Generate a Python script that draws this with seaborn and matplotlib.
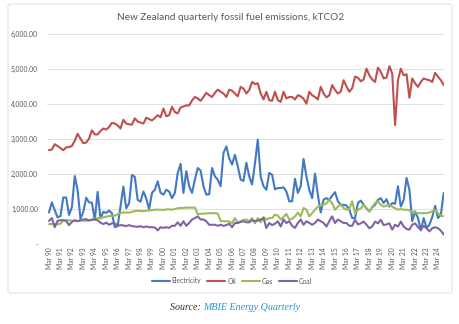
import numpy as np
import pandas as pd
import matplotlib
matplotlib.use("Agg")
import matplotlib.pyplot as plt
import seaborn as sns
from matplotlib.patches import FancyBboxPatch
from matplotlib.lines import Line2D

# ---------------- data (quarterly, Mar 1990 .. Sep 2024) ----------------
electricity = [
    900, 1190, 970, 760,   800, 1330, 1330, 830,   1050, 1940, 1540, 720,
    920, 1320, 1190, 1180,  690, 1490, 730, 920,    890, 950, 880, 480,
    510, 1070, 1640, 1020,  1160, 1970, 1920, 1260, 1210, 1500, 1300, 1000,
    1460, 1550, 1790, 1460, 1410, 1550, 1500, 1310, 1460, 2030, 2290, 1460,
    2080, 1650, 1460, 1840, 2170, 2100, 1650, 1410, 1420, 2170, 1930, 1840,
    1650, 2600, 2790, 2450, 2270, 2550, 2220, 1840, 1800, 2320, 1930, 1700,
    2300, 2980, 1930, 1650, 1550, 2030, 1980, 1560, 1600, 1600, 1620, 1500,
    1220, 1220, 1860, 1460, 1650, 2430, 1930, 1550, 1310, 2010, 1410, 900,
    1270, 1310, 1260, 1380, 1480, 1220, 1120, 1120, 1100, 980, 740, 740,
    1170, 1240, 1120, 1020, 930, 1050, 1120, 1260, 1310, 1170, 1280, 1070,
    1170, 1150, 1650, 1070, 1260, 1890, 1550, 650,  930, 740, 390, 740,
    460, 550, 770, 1090,   740, 840, 1460,
]
oil = [
    2680, 2700, 2850, 2800, 2740, 2680, 2760, 2770, 2800, 2950, 3150, 3010,
    2880, 2900, 3010, 3250, 3130, 3130, 3230, 3300, 3270, 3340, 3460, 3440,
    3390, 3300, 3550, 3440, 3420, 3410, 3590, 3500, 3470, 3440, 3610, 3570,
    3530, 3600, 3680, 3620, 3870, 3650, 3680, 3920, 3770, 3730, 3900, 3930,
    3960, 3960, 4100, 4200, 4160, 4090, 4200, 4320, 4250, 4200, 4320, 4410,
    4350, 4300, 4200, 4410, 4380, 4300, 4220, 4490, 4440, 4300, 4400, 4630,
    4570, 4590, 4300, 4130, 4350, 4110, 4090, 4350, 4110, 4060, 4350, 4160,
    4200, 4200, 4130, 4250, 4220, 4150, 4010, 4350, 4250, 4200, 4130, 4490,
    4300, 4190, 4250, 4540, 4400, 4300, 4350, 4680, 4500, 4350, 4450, 4780,
    4750, 4650, 4700, 5010, 4820, 4700, 4630, 5040, 4920, 4730, 4760, 5080,
    4870, 3400, 4680, 5010, 4820, 4850, 4180, 4730, 4590, 4490, 4630, 4730,
    4700, 4680, 4630, 4890, 4780, 4680, 4540,
]
gas = [
    570, 570, 570, 570,   580, 670, 680, 680,   670, 660, 660, 670,
    670, 660, 680, 700,   720, 740, 750, 760,   780, 800, 800, 810,
    850, 890, 900, 900,   900, 920, 940, 950,   940, 940, 950, 960,
    970, 980, 980, 980,   970, 990, 990, 980,   1000, 1020, 1030, 1030,
    1040, 1040, 1040, 1040, 850, 860, 870, 870,  880, 880, 880, 870,
    660, 650, 650, 640,   600, 740, 610, 650,   690, 700, 650, 740,
    590, 740, 620, 770,   700, 740, 740, 840,   810, 700, 770, 860,
    700, 720, 790, 900,   790, 1030, 980, 790,  880, 980, 1070, 1100,
    1120, 1160, 1270, 1160, 980, 1070, 1120, 1030, 980, 1000, 1220, 880,
    980, 1020, 1120, 1020, 930, 1050, 1170, 1220, 1120, 1070, 1100, 1120,
    1070, 1020, 980, 1000, 980, 980, 960, 930,  900, 880, 880, 880,
    880, 900, 930, 980,   880, 810, 790,
]
coal = [
    660, 740, 480, 660,   680, 680, 660, 540,   630, 680, 650, 680,
    700, 710, 670, 690,   710, 680, 610, 570,   610, 550, 590, 590,
    520, 540, 530, 510,   540, 510, 500, 490,   510, 480, 500, 480,
    480, 470, 390, 480,   460, 480, 460, 520,   520, 620, 520, 650,
    520, 600, 700, 740,   790, 700, 700, 650,   550, 550, 550, 520,
    550, 520, 540, 580,   480, 600, 600, 630,   650, 620, 620, 680,
    650, 670, 700, 740,   460, 600, 540, 580,   650, 500, 700, 600,
    650, 520, 460, 600,   700, 550, 650, 600,   550, 600, 700, 650,
    600, 500, 650, 790,   600, 700, 650, 600,   600, 520, 520, 690,
    560, 590, 640, 550,   450, 500, 640, 590,   690, 540, 560, 590,
    410, 550, 500, 640,   500, 430, 410, 550,   590, 480, 410, 520,
    450, 360, 450, 480,   450, 380, 270,
]
series_names = ["Electricity", "Oil", "Gas", "Coal"]
series_colors = ["#4279c0", "#c0504d", "#9bbb59", "#8064a2"]
tick_years = list(range(1990, 2025))
tick_labels = ["Mar %02d" % (y % 100) for y in tick_years]
y_ticks = [0, 1000, 2000, 3000, 4000, 5000, 6000]
y_tick_labels = ["-", "1,000.00", "2,000.00", "3,000.00", "4,000.00", "5,000.00", "6,000.00"]

title = "New Zealand quarterly fossil fuel emissions, kTCO2"

# ---------------- build long table ----------------
frames = []
for name, vals in zip(series_names, [electricity, oil, gas, coal]):
    frames.append(pd.DataFrame({"q": np.arange(len(vals)), "value": vals, "series": name}))
df = pd.concat(frames, ignore_index=True)

sns.set_theme(style="white")
plt.rcParams["font.family"] = ["Lato", "DejaVu Sans"]

fig = plt.figure(figsize=(4.6, 3.24), dpi=100)
fig.patch.set_facecolor("white")

# chart area frame
frame = FancyBboxPatch((8 / 460, 1 - 293 / 324), 444 / 460, 289 / 324,
                       boxstyle="round,pad=0,rounding_size=0.008",
                       transform=fig.transFigure, facecolor="none",
                       edgecolor="#e3e3e3", linewidth=0.8, zorder=-5)
fig.patches.append(frame)

ax = fig.add_axes([47 / 460, 1 - 244 / 324, (444 - 47) / 460, (244 - 34) / 324])
ax.set_facecolor("none")
ax.set_zorder(2)

sns.lineplot(data=df, x="q", y="value", hue="series", hue_order=series_names,
             palette=series_colors, linewidth=1.5, ax=ax, legend=False, zorder=3)

ax.set_xlim(-0.7, 138.1)
ax.set_ylim(0, 6000)
ax.set_yticks(y_ticks)
ax.set_yticklabels(y_tick_labels)
ax.set_xticks([4 * k for k in range(len(tick_labels))])
ax.set_xticklabels(tick_labels, rotation=90)
ax.tick_params(axis="x", length=0, pad=2.5, labelsize=4.9, colors="#595959")
ax.tick_params(axis="y", length=0, pad=6.5, labelsize=4.9, colors="#595959")
ax.set_xlabel("")
ax.set_ylabel("")
for s in ax.spines.values():
    s.set_visible(False)
for yv in y_ticks:
    ax.axhline(yv, color="#e0e0e0", linewidth=0.8, zorder=1)

fig.text(231 / 460, 1 - 18 / 324, title, ha="center", va="center",
         fontsize=7.2, color="#595959")

# legend
handles = [Line2D([0], [0], color=c, linewidth=1.5) for c in series_colors]
fig.legend(handles, series_names, loc="center", bbox_to_anchor=(232 / 460, 1 - 281 / 324),
           ncol=4, frameon=False, fontsize=4.9, handlelength=2.6, handletextpad=0.3,
           columnspacing=0.9, labelcolor="#595959")

# source line
fig.text(203 / 460, 1 - 308 / 324, "Source: ", ha="right", va="center", fontsize=7.2,
         family="Liberation Serif", style="italic", color="#333333")
fig.text(203 / 460, 1 - 308 / 324, "MBIE Energy Quarterly", ha="left", va="center",
         fontsize=7.2, family="Liberation Serif", style="italic", color="#2a94cf")

fig.savefig("out.png", dpi=100, facecolor="white")
